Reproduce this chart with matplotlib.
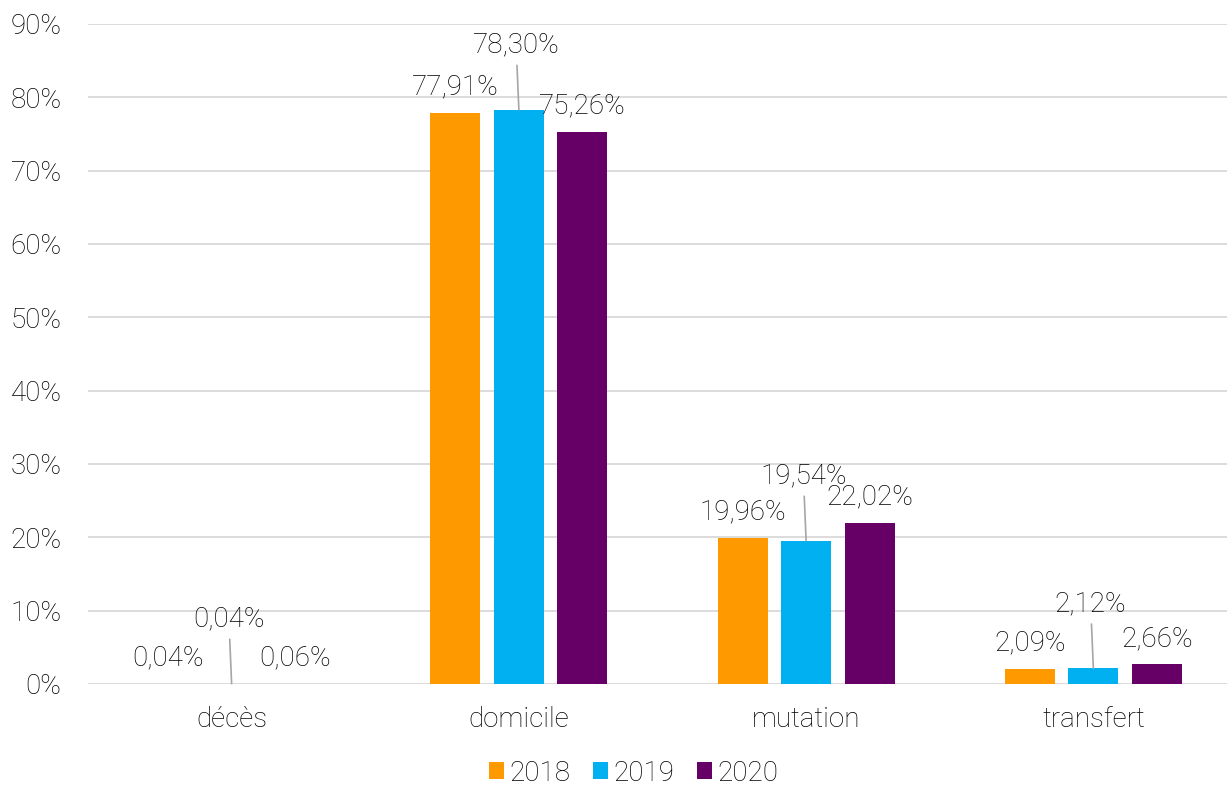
import matplotlib.pyplot as plt
import numpy as np

# Données
categories = ["décès", "domicile", "mutation", "transfert"]
years = ["2018", "2019", "2020"]
v2018 = [0.04, 77.91, 19.96, 2.09]
v2019 = [0.04, 78.30, 19.54, 2.12]
v2020 = [0.06, 75.26, 22.02, 2.66]
yticks = list(range(0, 100, 10))

colors = ["#FF9900", "#00B0F0", "#660066"]
txt_col = "#000000"
fs = 20

plt.rcParams['font.family'] = ['Roboto', 'DejaVu Sans']
plt.rcParams['font.weight'] = 'light'

fig = plt.figure(figsize=(12.27, 7.87), dpi=100)
ax = fig.add_axes([88 / 1227, 1 - 684 / 787, 1149 / 1227, (684 - 24) / 787])

x = np.arange(len(categories))
width = 0.174
step = 0.221

series = [v2018, v2019, v2020]
for i, (vals, col, yr) in enumerate(zip(series, colors, years)):
    pos = x + (i - 1) * step
    ax.bar(pos, vals, width, color=col, label=yr, zorder=3)
    for px, v in zip(pos, vals):
        txt = f"{v:.2f}%".replace(".", ",")
        if i == 1:
            # étiquette décalée vers le haut avec trait de rappel
            ax.annotate(txt, xy=(px, v), xytext=(-2, 37), textcoords="offset points",
                        ha="center", va="bottom", fontsize=fs, color=txt_col,
                        arrowprops=dict(arrowstyle="-", color="#a6a6a6", lw=1.2,
                                        shrinkA=3, shrinkB=0))
        else:
            ax.annotate(txt, xy=(px, v), xytext=(0, 9), textcoords="offset points",
                        ha="center", va="bottom", fontsize=fs, color=txt_col)

ax.set_xlim(-0.5, len(categories) - 0.5)
ax.set_ylim(0, 90)
ax.set_yticks(yticks)
ax.set_yticklabels([f"{t}%" for t in yticks])
ax.set_xticks(x)
ax.set_xticklabels(categories)
ax.tick_params(axis="both", length=0, labelsize=fs, colors=txt_col)
ax.tick_params(axis="y", pad=19)
ax.tick_params(axis="x", pad=16)
ax.grid(axis="y", color="#d9d9d9", lw=1.3, zorder=0)
for s in ax.spines.values():
    s.set_visible(False)

ax.legend(loc="center", bbox_to_anchor=(0.475, -0.135), ncol=3, frameon=False,
          fontsize=fs, handlelength=0.55, handleheight=0.55, handletextpad=0.2,
          columnspacing=0.8, labelcolor=txt_col)

fig.savefig("out.png", dpi=100)
